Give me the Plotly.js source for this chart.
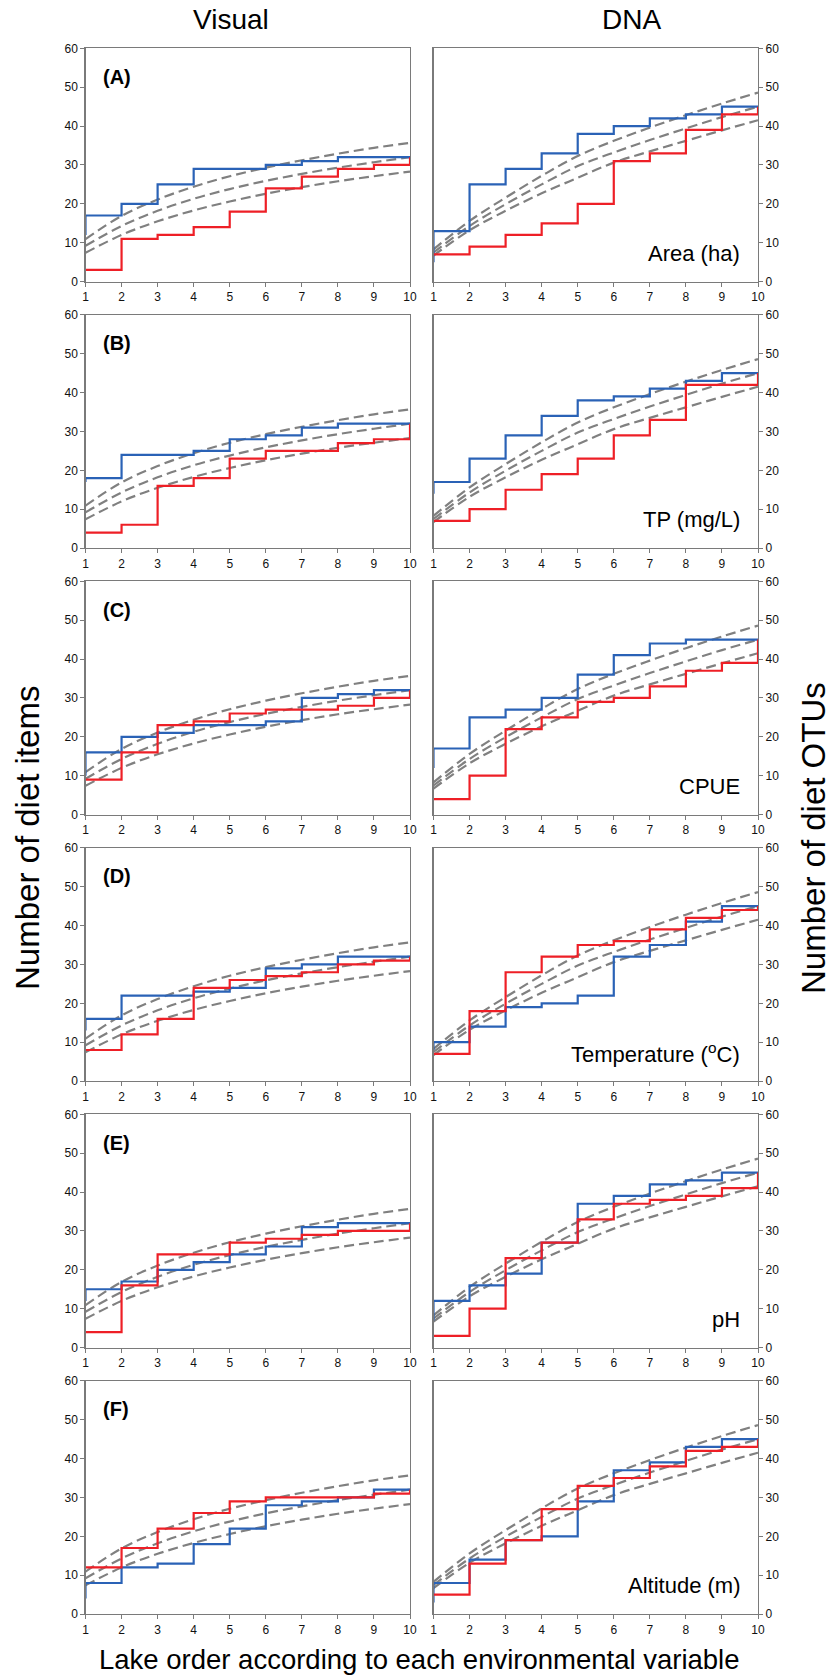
<!DOCTYPE html>
<html>
<head>
<meta charset="utf-8">
<script src="https://cdn.plot.ly/plotly-3.0.1.min.js"></script>
<style>
html,body{margin:0;padding:0;background:#fff;}
#chart{width:836px;height:1677px;}
</style>
</head>
<body>
<div id="chart"></div>
<script>
// ---- Data ----
const lakeOrder = [1, 2, 3, 4, 5, 6, 7, 8, 9, 10];
const panelLabels = ['(A)', '(B)', '(C)', '(D)', '(E)', '(F)'];
const variableNames = ['Area (ha)', 'TP (mg/L)', 'CPUE', 'Temperature (<sup>o</sup>C)', 'pH', 'Altitude (m)'];
const columnTitles = ['Visual', 'DNA'];

// Visual (diet items): blue series (drawn vertical-first), red series (horizontal-first)
const visualBlue = [
  [12, 17, 20, 25, 29, 29, 30, 31, 32, 32],
  [17, 18, 24, 24, 25, 28, 29, 31, 32, 32],
  [10, 16, 20, 21, 23, 23, 24, 30, 31, 32],
  [13, 16, 22, 22, 23, 24, 29, 30, 32, 32],
  [12, 15, 17, 20, 22, 24, 26, 31, 32, 32],
  [4, 8, 12, 13, 18, 22, 28, 29, 30, 32]
];
const visualRed = [
  [3, 11, 12, 14, 18, 24, 27, 29, 30, 32],
  [4, 6, 16, 18, 23, 25, 25, 27, 28, 32],
  [9, 16, 23, 24, 26, 27, 27, 28, 30, 32],
  [8, 12, 16, 24, 26, 27, 28, 30, 31, 32],
  [4, 16, 24, 24, 27, 28, 29, 30, 30, 32],
  [12, 17, 22, 26, 29, 30, 30, 30, 31, 32]
];
// DNA (diet OTUs)
const dnaBlue = [
  [5, 13, 25, 29, 33, 38, 40, 42, 43, 45],
  [14, 17, 23, 29, 34, 38, 39, 41, 43, 45],
  [12, 17, 25, 27, 30, 36, 41, 44, 45, 45],
  [8, 10, 14, 19, 20, 22, 32, 35, 41, 45],
  [7, 12, 16, 19, 27, 37, 39, 42, 43, 45],
  [3, 8, 14, 19, 20, 29, 37, 39, 43, 45]
];
const dnaRed = [
  [7, 9, 12, 15, 20, 31, 33, 39, 43, 45],
  [7, 10, 15, 19, 23, 29, 33, 42, 42, 45],
  [4, 10, 22, 25, 29, 30, 33, 37, 39, 45],
  [7, 18, 28, 32, 35, 36, 39, 42, 44, 45],
  [3, 10, 23, 27, 33, 37, 38, 39, 41, 45],
  [5, 13, 19, 27, 33, 35, 38, 42, 43, 45]
];
// Rarefaction (expected) curves with upper/lower bounds
const visualCurveUpper = [10.9, 16.9, 21.1, 24.4, 27.1, 29.3, 31.2, 32.9, 34.4, 35.7];
const visualCurveMean  = [9.2, 14.3, 18.2, 21.3, 23.8, 25.9, 27.7, 29.3, 30.7, 32.0];
const visualCurveLower = [7.4, 12.0, 15.5, 18.3, 20.6, 22.6, 24.3, 25.8, 27.1, 28.3];
const dnaCurveUpper = [8.3, 15.6, 21.6, 27.2, 32.3, 36.2, 39.6, 42.8, 45.8, 48.6];
const dnaCurveMean  = [7.5, 14.3, 19.9, 25.0, 29.7, 33.2, 36.4, 39.4, 42.3, 45.0];
const dnaCurveLower = [6.7, 13.2, 18.2, 22.7, 26.7, 30.6, 33.5, 36.2, 38.9, 41.5];

// ---- Styling / layout ----
const W = 836, H = 1677;
const BLUE = '#2a62b6', RED = '#ee1f26', GREY = '#808080';
const FONT = 'Liberation Sans, Arial, sans-serif';
const leftX = [85.5, 410], rightX = [433.5, 758];
const panelTop0 = 48.3, rowStep = 266.5, panelH = 233.3;

const traces = [];
const layout = {
  width: W, height: H,
  margin: {l: 0, r: 0, t: 0, b: 0},
  paper_bgcolor: '#fff', plot_bgcolor: '#fff',
  showlegend: false,
  font: {family: FONT, color: '#111'},
  annotations: []
};

function addAxes(n, xd, yd, side) {
  const xa = {
    domain: xd, range: [1, 10], tickmode: 'array', tickvals: lakeOrder,
    ticktext: lakeOrder.map(String),
    showgrid: false, zeroline: false, showline: true, mirror: true,
    linecolor: '#7a7a7a', linewidth: 1.2,
    ticks: 'outside', ticklen: 4, tickcolor: '#7a7a7a', tickwidth: 1,
    tickfont: {size: 12, family: FONT, color: '#111'},
    anchor: 'y' + (n === 1 ? '' : n), fixedrange: true
  };
  const ya = {
    domain: yd, range: [0, 60], tickmode: 'array', tickvals: [0, 10, 20, 30, 40, 50, 60],
    showgrid: false, zeroline: false, showline: true, mirror: true,
    linecolor: '#7a7a7a', linewidth: 1.2,
    ticks: 'outside', ticklen: 4, tickcolor: '#7a7a7a', tickwidth: 1,
    tickfont: {size: 12, family: FONT, color: '#111'},
    side: side, anchor: 'x' + (n === 1 ? '' : n), fixedrange: true
  };
  layout['xaxis' + (n === 1 ? '' : n)] = xa;
  layout['yaxis' + (n === 1 ? '' : n)] = ya;
}

function addPanel(n, curves, blue, red) {
  const xr = 'x' + (n === 1 ? '' : n), yr = 'y' + (n === 1 ? '' : n);
  curves.forEach(c => traces.push({
    x: lakeOrder, y: c, xaxis: xr, yaxis: yr, mode: 'lines', hoverinfo: 'skip',
    line: {color: GREY, width: 2.2, dash: '10px,5px', shape: 'spline', smoothing: 1}
  }));
  traces.push({x: lakeOrder, y: blue, xaxis: xr, yaxis: yr, mode: 'lines', hoverinfo: 'skip',
    line: {color: BLUE, width: 2.2, shape: 'vh'}});
  traces.push({x: lakeOrder, y: red, xaxis: xr, yaxis: yr, mode: 'lines', hoverinfo: 'skip',
    line: {color: RED, width: 2.2, shape: 'hv'}});
}

for (let i = 0; i < 6; i++) {
  const top = panelTop0 + i * rowStep;
  const yd = [1 - (top + panelH) / H, 1 - top / H];
  const nL = 2 * i + 1, nR = 2 * i + 2;
  addAxes(nL, [leftX[0] / W, leftX[1] / W], yd, 'left');
  addAxes(nR, [rightX[0] / W, rightX[1] / W], yd, 'right');
  addPanel(nL, [visualCurveUpper, visualCurveMean, visualCurveLower], visualBlue[i], visualRed[i]);
  addPanel(nR, [dnaCurveUpper, dnaCurveMean, dnaCurveLower], dnaBlue[i], dnaRed[i]);
  layout.annotations.push({
    xref: 'x' + (nL === 1 ? '' : nL), yref: 'y' + (nL === 1 ? '' : nL),
    x: 1.42, y: 52.7, xanchor: 'left', yanchor: 'middle', showarrow: false,
    text: '<b>' + panelLabels[i] + '</b>', font: {size: 20, family: FONT, color: '#000'}
  });
  layout.annotations.push({
    xref: 'x' + nR, yref: 'y' + nR,
    x: 9.56, y: 7.3, xanchor: 'right', yanchor: 'middle', showarrow: false,
    text: variableNames[i], font: {size: 22, family: FONT, color: '#000'}
  });
}

// Column titles and axis titles
layout.annotations.push({xref: 'paper', yref: 'paper', x: 231 / W, y: 1 - 19 / H,
  xanchor: 'center', yanchor: 'middle', showarrow: false, text: columnTitles[0],
  font: {size: 28, family: FONT, color: '#000'}});
layout.annotations.push({xref: 'paper', yref: 'paper', x: 631 / W, y: 1 - 19 / H,
  xanchor: 'center', yanchor: 'middle', showarrow: false, text: columnTitles[1],
  font: {size: 28, family: FONT, color: '#000'}});
layout.annotations.push({xref: 'paper', yref: 'paper', x: 27 / W, y: 1 - 838 / H,
  xanchor: 'center', yanchor: 'middle', showarrow: false, textangle: -90,
  text: 'Number of diet items', font: {size: 33, family: FONT, color: '#000'}});
layout.annotations.push({xref: 'paper', yref: 'paper', x: 813 / W, y: 1 - 838 / H,
  xanchor: 'center', yanchor: 'middle', showarrow: false, textangle: -90,
  text: 'Number of diet OTUs', font: {size: 33, family: FONT, color: '#000'}});
layout.annotations.push({xref: 'paper', yref: 'paper', x: 420 / W, y: 1 - 1659 / H,
  xanchor: 'center', yanchor: 'middle', showarrow: false,
  text: 'Lake order according to each environmental variable', font: {size: 27.5, family: FONT, color: '#000'}});

Plotly.newPlot('chart', traces, layout, {staticPlot: true, displayModeBar: false});
</script>
</body>
</html>
